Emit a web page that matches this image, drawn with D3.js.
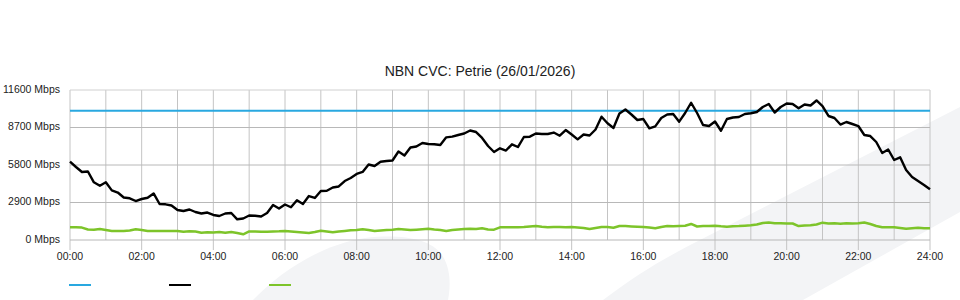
<!DOCTYPE html>
<html>
<head>
<meta charset="utf-8">
<script src="https://cdn.jsdelivr.net/npm/d3@7"></script>
<style>
  body { margin: 0; background: #fff; }
  svg { display: block; font-family: "Liberation Sans", Arial, sans-serif; }
</style>
</head>
<body>
<svg id="chart" width="960" height="300"></svg>
<script>
// title + axis labels
const title = "NBN CVC: Petrie (26/01/2026)";
const yTicks = [0, 2900, 5800, 8700, 11600];
const xTickLabels = ["00:00", "02:00", "04:00", "06:00", "08:00", "10:00", "12:00",
  "14:00", "16:00", "18:00", "20:00", "22:00", "24:00"];

// 10 minute samples, Mbps
const capacity = 10000;
const download = [6055,5645,5260,5300,4460,4200,4460,3840,3670,3290,
  3225,3015,3170,3270,3600,2785,2760,2670,2320,2240,
  2360,2165,2050,2125,1935,1855,2050,2090,1600,1660,
  1895,1880,1815,2090,2705,2435,2745,2530,3070,2785,
  3400,3250,3790,3810,4060,4140,4560,4795,5105,5260,
  5840,5720,6055,6110,6150,6845,6535,7155,7230,7500,
  7425,7400,7345,7940,7990,8120,8235,8470,8350,7890,
  7270,6805,7090,6920,7400,7190,7965,7990,8235,8200,
  8200,8310,8065,8505,8160,7785,8160,8080,8545,9535,
  9025,8660,9780,10090,9705,9280,9355,8640,8790,9435,
  9705,9745,9150,9820,10615,9820,8895,8815,9165,8450,
  9355,9475,9510,9745,9800,9900,10285,10515,9860,10285,
  10555,10515,10185,10480,10400,10790,10360,9590,9435,8930,
  9125,8970,8815,8120,8040,7580,6730,7000,6185,6395,
  5415,4870,4560,4255,3920];
const upload = [980,980,960,810,800,850,770,700,700,700,
  740,830,770,700,700,700,700,700,700,640,
  670,660,565,600,580,620,565,620,540,440,
  660,660,640,640,660,670,700,660,620,580,
  540,620,720,660,600,660,700,750,770,830,
  770,700,740,770,800,850,810,770,800,830,
  870,810,770,700,770,810,850,870,850,905,
  810,800,980,980,980,980,1005,1045,1080,1020,
  980,1005,1005,980,1005,965,930,850,930,1005,
  1005,950,1080,1080,1045,1020,1005,965,905,1005,
  1080,1060,1080,1105,1240,1045,1080,1080,1105,1060,
  1030,1070,1080,1105,1140,1200,1315,1355,1300,1290,
  1275,1275,1080,1120,1140,1200,1340,1275,1290,1260,
  1290,1275,1300,1355,1240,1080,980,980,980,930,
  865,905,945,905,905];
const minutes = d3.range(download.length).map(i => i * 10);

const colors = {capacity: "#29a8e0", download: "#000000", upload: "#7dc42a"};

const padL = 70, padR = 930, padT = 90, padB = 240;
const svg = d3.select("#chart");

// faint watermark behind the chart
const bg = svg.append("g").attr("fill", "#f3f4f6");
bg.append("path")
  .attr("d", "M253,300 C280,272 320,245 365,238 C400,234 430,238 442,255 C452,270 450,290 448,300 Z");
bg.append("path")
  .attr("d", "M603,300 C640,272 665,258 700,240 L960,107 L960,212 L803,300 Z");

const x = d3.scaleLinear().domain([0, 1440]).range([padL, padR]);
const y = d3.scaleLinear().domain([0, 11600]).range([padB, padT]);

// grid
svg.append("g").selectAll("line")
  .data(d3.range(0, 1441, 60))
  .join("line")
  .attr("x1", d => x(d)).attr("x2", d => x(d))
  .attr("y1", padT).attr("y2", d => d % 120 === 0 ? padB + 10 : padB)
  .attr("stroke", "#c4c4c4");

svg.append("g").selectAll("line")
  .data(yTicks)
  .join("line")
  .attr("x1", padL).attr("x2", padR)
  .attr("y1", d => y(d)).attr("y2", d => y(d))
  .attr("stroke", d => d === 11600 ? "#d0d0d0" : "#b8b8b8");

svg.append("g").selectAll("text")
  .data(yTicks)
  .join("text")
  .attr("x", 60).attr("y", d => y(d) + 2.5)
  .attr("text-anchor", "end")
  .attr("font-size", 10.5).attr("fill", "#222")
  .text(d => d + " Mbps");

svg.append("g").selectAll("text")
  .data(xTickLabels)
  .join("text")
  .attr("x", (d, i) => x(i * 120)).attr("y", 260)
  .attr("text-anchor", "middle")
  .attr("font-size", 10.5).attr("fill", "#222")
  .text(d => d);

svg.append("text")
  .attr("x", 480).attr("y", 76)
  .attr("text-anchor", "middle")
  .attr("font-size", 14).attr("fill", "#222")
  .text(title);

// series
const line = d3.line().x(d => x(d[0])).y(d => y(d[1]));

svg.append("path")
  .datum([[0, capacity], [1440, capacity]])
  .attr("d", line)
  .attr("fill", "none").attr("stroke", colors.capacity).attr("stroke-width", 2);

svg.append("path")
  .datum(minutes.map((m, i) => [m, upload[i]]))
  .attr("d", line)
  .attr("fill", "none").attr("stroke", colors.upload).attr("stroke-width", 2.5)
  .attr("stroke-linejoin", "round");

svg.append("path")
  .datum(minutes.map((m, i) => [m, download[i]]))
  .attr("d", line)
  .attr("fill", "none").attr("stroke", colors.download).attr("stroke-width", 2.4)
  .attr("stroke-linejoin", "round");

// legend swatches (no labels)
svg.append("g").selectAll("line")
  .data([colors.capacity, colors.download, colors.upload])
  .join("line")
  .attr("x1", (d, i) => 69 + i * 100).attr("x2", (d, i) => 91 + i * 100)
  .attr("y1", 285).attr("y2", 285)
  .attr("stroke", d => d).attr("stroke-width", 2);
</script>
</body>
</html>
